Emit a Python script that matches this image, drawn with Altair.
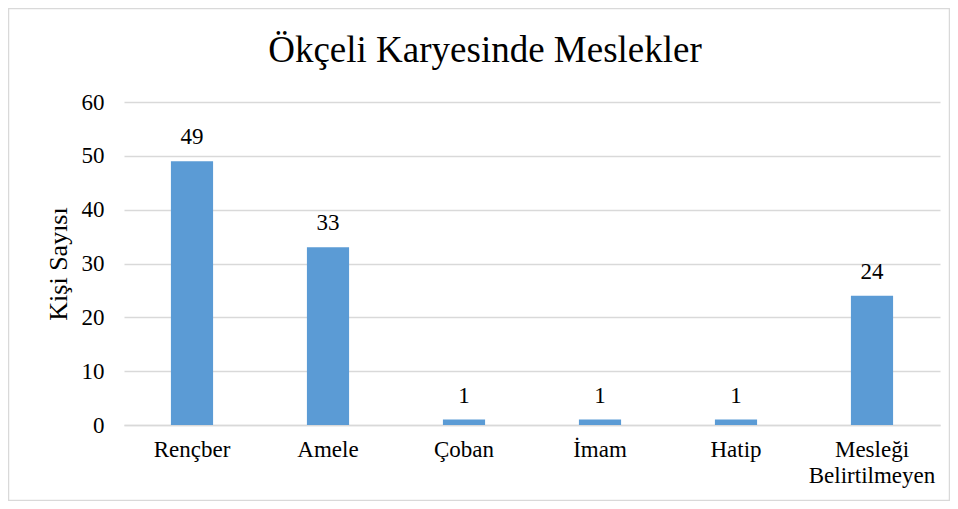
import altair as alt
import pandas as pd

title_text = "Ökçeli Karyesinde Meslekler"
categories = ["Rençber", "Amele", "Çoban", "İmam", "Hatip", "Mesleği Belirtilmeyen"]
values = [49, 33, 1, 1, 1, 24]
y_ticks = [0, 10, 20, 30, 40, 50, 60]

FONT = "Liberation Serif"
df = pd.DataFrame({"Meslek": categories, "Kişi": values})

base = alt.Chart(df).encode(
    x=alt.X(
        "Meslek:N",
        sort=categories,
        scale=alt.Scale(paddingInner=0.69, paddingOuter=0.345),
        axis=alt.Axis(
            title=None,
            labelAngle=0,
            labelFont=FONT,
            labelFontSize=23,
            labelColor="#000000",
            labelPadding=13,
            labelLineHeight=26,
            labelBaseline="top",
            labelExpr="datum.label == 'Mesleği Belirtilmeyen' ? ['Mesleği', 'Belirtilmeyen'] : datum.label",
            ticks=False,
            domain=True,
            domainColor="#d9d9d9",
            domainWidth=1.5,
        ),
    ),
    y=alt.Y(
        "Kişi:Q",
        scale=alt.Scale(domain=[0, 60]),
        axis=alt.Axis(
            title="Kişi Sayısı",
            titleFont=FONT,
            titleFontSize=26,
            titleFontWeight="normal",
            titleColor="#000000",
            titlePadding=10,
            values=y_ticks,
            labelFont=FONT,
            labelFontSize=23,
            labelColor="#000000",
            labelPadding=20,
            ticks=False,
            domain=False,
            grid=True,
            gridColor="#d9d9d9",
            gridWidth=1.5,
        ),
    ),
)

bars = base.mark_bar(color="#5B9BD5")
labels = base.mark_text(
    font=FONT, fontSize=23, color="#000000", baseline="alphabetic", dy=-17
).encode(text="Kişi:Q")

deco = pd.DataFrame({"t": [title_text]})
title = alt.Chart(deco).mark_text(
    font=FONT, fontSize=37, color="#000000", baseline="alphabetic", align="center"
).encode(text="t:N", x=alt.value(361), y=alt.value(-40))

border = alt.Chart(deco).mark_rect(
    fill=None, stroke="#d9d9d9", strokeWidth=1.5
).encode(
    x=alt.value(-115.5), x2=alt.value(825.5), y=alt.value(-93.5), y2=alt.value(398.5)
)

chart = (
    alt.layer(bars, labels, title, border)
    .properties(
        width=816,
        height=323,
        autosize=alt.AutoSizeParams(type="none"),
        padding={"left": 116, "top": 94, "right": 10, "bottom": 76},
    )
    .configure_view(stroke=None)
)

chart.save("out.html", embed_options={"renderer": "svg", "actions": False})
